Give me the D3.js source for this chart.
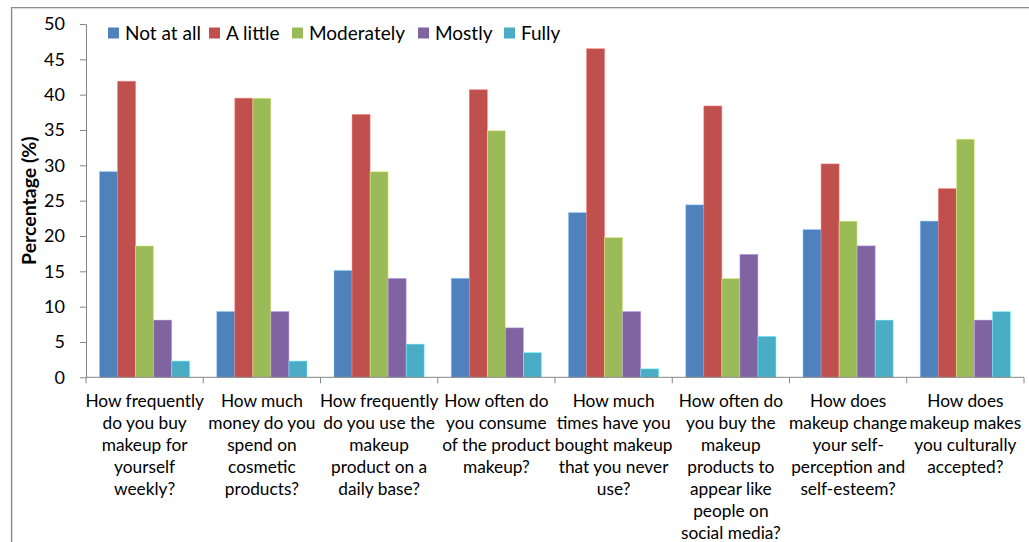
<!DOCTYPE html>
<html>
<head>
<meta charset="utf-8">
<script src="https://cdn.jsdelivr.net/npm/d3@7"></script>
<style>
  html, body { margin: 0; padding: 0; background: #fff; }
  svg { display: block; font-family: Lato, "Open Sans", sans-serif; }
</style>
</head>
<body>
<svg id="chart" width="1029" height="542"></svg>
<script>
// Survey questions (one array of lines per question)
const categories = [
  ["How frequently", "do you buy", "makeup for", "yourself", "weekly?"],
  ["How much", "money do you", "spend on", "cosmetic", "products?"],
  ["How frequently", "do you use the", "makeup", "product on a", "daily base?"],
  ["How often do", "you consume", "of the product", "makeup?"],
  ["How much", "times have you", "bought makeup", "that you never", "use?"],
  ["How often do", "you buy the", "makeup", "products to", "appear like", "people on", "social media?"],
  ["How does", "makeup change", "your self-", "perception and", "self-esteem?"],
  ["How does", "makeup makes", "you culturally", "accepted?"]
];

const seriesNames = ["Not at all", "A little", "Moderately", "Mostly", "Fully"];

// Percentage of respondents per answer
const notAtAll   = [29.1,  9.3, 15.1, 14.0, 23.3, 24.4, 20.9, 22.1];
const aLittle    = [41.9, 39.5, 37.2, 40.7, 46.5, 38.4, 30.2, 26.7];
const moderately = [18.6, 39.5, 29.1, 34.9, 19.8, 14.0, 22.1, 33.7];
const mostly     = [ 8.1,  9.3, 14.0,  7.0,  9.3, 17.4, 18.6,  8.1];
const fully      = [ 2.3,  2.3,  4.7,  3.5,  1.2,  5.8,  8.1,  9.3];

const yTicks = [0, 5, 10, 15, 20, 25, 30, 35, 40, 45, 50];
const yLabel = "Percentage (%)";

const seriesValues = [notAtAll, aLittle, moderately, mostly, fully];
const colors = ["#4F81BD", "#C0504D", "#9BBB59", "#8064A2", "#4BACC6"];

const svg = d3.select("#chart");
const plot = { left: 86, right: 1024, top: 24, bottom: 377.3 };

// Outer chart frame
svg.append("path")
  .attr("d", "M11.5,542 V7.5 H1029")
  .attr("fill", "none")
  .attr("stroke", "#8c8c8c")
  .attr("stroke-width", 1.2);
svg.append("path")
  .attr("d", "M12.5,542 V8.5 H1029")
  .attr("fill", "none")
  .attr("stroke", "#d9d9d9")
  .attr("stroke-width", 1);

const catIdx = categories.map((d, i) => i);
const x = d3.scaleBand().domain(catIdx).range([plot.left, plot.right]).padding(0);
const xs = d3.scaleBand().domain(d3.range(seriesNames.length))
  .range([0, x.bandwidth()]).paddingInner(0).paddingOuter(0.75);
const y = d3.scaleLinear().domain([0, 50]).range([plot.bottom, plot.top]);

// Bars
const groups = svg.append("g").selectAll("g")
  .data(catIdx).join("g")
  .attr("transform", i => `translate(${x(i)},0)`);

groups.selectAll("rect")
  .data(i => seriesValues.map((vals, s) => ({ s, v: vals[i] })))
  .join("rect")
  .attr("x", d => xs(d.s))
  .attr("y", d => y(d.v))
  .attr("width", xs.bandwidth())
  .attr("height", d => y(0) - y(d.v))
  .attr("fill", d => colors[d.s])
  .attr("stroke", d => d3.color(colors[d.s]).brighter(1.2))
  .attr("stroke-opacity", 0.6)
  .attr("stroke-width", 0.8);

// Y axis
const yAxis = svg.append("g")
  .attr("transform", `translate(${plot.left},0)`)
  .call(d3.axisLeft(y).tickValues(yTicks).tickSize(6).tickSizeOuter(0).tickPadding(15));
yAxis.select(".domain").attr("stroke", "#868686");
yAxis.selectAll(".tick line").attr("stroke", "#868686");
yAxis.selectAll(".tick text")
  .attr("font-family", "Lato, sans-serif")
  .attr("font-size", 18)
  .attr("fill", "#000");

// X axis line and category boundary ticks
const xAxisG = svg.append("g");
xAxisG.append("line")
  .attr("x1", plot.left).attr("x2", plot.right)
  .attr("y1", y(0)).attr("y2", y(0))
  .attr("stroke", "#868686");
const bounds = catIdx.map(i => x(i)).concat([x(catIdx[catIdx.length - 1]) + x.bandwidth()]);
xAxisG.selectAll("line.tk")
  .data(bounds).join("line")
  .attr("class", "tk")
  .attr("x1", d => d).attr("x2", d => d)
  .attr("y1", y(0)).attr("y2", y(0) + 6)
  .attr("stroke", "#868686");

// Category labels
const labels = svg.append("g")
  .attr("font-size", 17.3)
  .attr("text-anchor", "middle")
  .attr("fill", "#000");
labels.selectAll("text")
  .data(catIdx).join("text")
  .attr("x", i => x(i) + x.bandwidth() / 2)
  .attr("y", 406.5)
  .selectAll("tspan")
  .data(i => categories[i]).join("tspan")
  .attr("x", function () { return this.parentNode.getAttribute("x"); })
  .attr("dy", (d, k) => k === 0 ? 0 : 22)
  .text(d => d);

// Y axis title
svg.append("text")
  .attr("transform", `translate(36,${(plot.top + plot.bottom) / 2}) rotate(-90)`)
  .attr("text-anchor", "middle")
  .attr("font-size", 19.5)
  .attr("font-weight", "bold")
  .attr("fill", "#000")
  .text(yLabel);

// Legend
const legendX = [108, 209, 292, 418, 504];
const legend = svg.append("g");
const li = legend.selectAll("g").data(seriesNames).join("g")
  .attr("transform", (d, i) => `translate(${legendX[i]},33)`);
li.append("rect")
  .attr("x", 0).attr("y", -5.5)
  .attr("width", 11).attr("height", 11)
  .attr("fill", (d, i) => colors[i]);
li.append("text")
  .attr("x", 17).attr("y", 6.5)
  .attr("font-size", 19)
  .attr("fill", "#000")
  .text(d => d);
</script>
</body>
</html>
